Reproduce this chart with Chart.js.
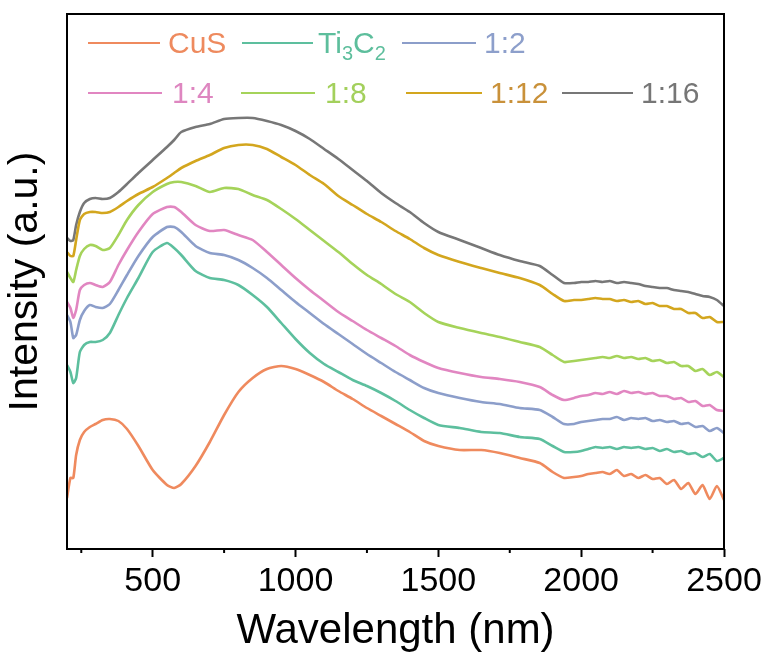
<!DOCTYPE html>
<html>
<head>
<meta charset="utf-8">
<title>Absorption spectra</title>
<script src="https://cdn.jsdelivr.net/npm/chart.js@4.4.1/dist/chart.umd.min.js"></script>
<style>
  html, body { margin: 0; padding: 0; background: #ffffff; }
  canvas { display: block; }
</style>
</head>
<body>
<canvas id="spectra" width="772" height="669"></canvas>
<script>
// Wavelength grid (nm) shared by all spectra
const wavelengths = [
  200, 212, 222, 232, 245, 260, 280, 300, 325, 350,
  380, 410, 450, 500, 550, 575, 600, 650, 700, 750,
  800, 850, 900, 950, 1000, 1050, 1100, 1150, 1200, 1250,
  1300, 1350, 1400, 1450, 1500, 1575, 1650, 1715, 1785, 1855,
  1900, 1940, 1975, 2000, 2025, 2050, 2075, 2100, 2125, 2150,
  2175, 2200, 2225, 2250, 2275, 2300, 2325, 2350, 2375, 2400,
  2425, 2450, 2475, 2500
];

// Intensity (a.u., curves offset for clarity)
const cus = [
  51, 71, 71, 94, 109, 117, 122, 125, 129, 130,
  128, 120, 103, 79, 64, 61, 65, 83, 107, 134,
  157, 171, 180, 183, 180, 174, 167, 158, 150, 141,
  133, 125, 117, 108, 103, 99, 99, 96, 91, 86,
  77, 71, 72, 73, 75, 76, 77, 75, 79, 73,
  75, 71, 74, 70, 71, 65, 69, 60, 66, 55,
  64, 50, 63, 49
];
const ti3c2 = [
  184, 177, 166, 171, 197, 204, 207, 207, 209, 216,
  234, 251, 271, 297, 306, 301, 294, 278, 271, 269,
  264, 254, 242, 226, 210, 196, 185, 177, 169, 163,
  156, 148, 139, 131, 124, 121, 117, 116, 112, 110,
  103, 97, 97, 98, 100, 102, 101, 102, 100, 102,
  101, 102, 100, 101, 98, 100, 97, 98, 95, 96,
  92, 95, 88, 91
];
const ratio1to2 = [
  234, 227, 211, 214, 229, 238, 244, 242, 241, 245,
  259, 274, 293, 312, 322, 322, 317, 303, 296, 294,
  289, 281, 271, 259, 247, 236, 225, 215, 205, 195,
  186, 177, 169, 161, 156, 151, 147, 145, 141, 139,
  132, 125, 125, 127, 128, 129, 130, 130, 132, 129,
  131, 130, 131, 128, 129, 127, 128, 125, 126, 122,
  123, 118, 121, 116
];
const ratio1to4 = [
  247, 241, 231, 239, 259, 264, 266, 264, 262, 267,
  284, 299, 317, 335, 342, 342, 337, 324, 318, 319,
  314, 309, 297, 284, 271, 259, 248, 237, 228, 219,
  211, 203, 194, 187, 181, 176, 172, 170, 167, 162,
  154, 149, 151, 153, 154, 156, 155, 157, 155, 158,
  156, 157, 155, 156, 153, 153, 150, 151, 147, 148,
  143, 144, 139, 138
];
const ratio1to8 = [
  277, 271, 267, 279, 293, 300, 304, 303, 299, 301,
  314, 329, 344, 357, 365, 367, 367, 363, 357, 361,
  360, 354, 349, 340, 330, 319, 308, 297, 285, 274,
  265, 255, 247, 236, 227, 221, 216, 212, 207, 202,
  194, 187, 188, 189, 190, 191, 192, 191, 193, 191,
  192, 190, 191, 188, 189, 186, 187, 183, 183, 178,
  180, 174, 177, 172
];
const ratio1to12 = [
  297, 293, 293, 309, 329, 335, 337, 337, 336, 337,
  342, 348, 355, 362, 371, 376, 381, 388, 394, 401,
  404, 404, 400, 392, 384, 374, 365, 353, 344, 335,
  327, 318, 310, 301, 294, 287, 281, 276, 271, 264,
  255, 248, 249, 249, 250, 251, 250, 250, 248, 249,
  247, 248, 245, 246, 243, 243, 240, 240, 236, 236,
  231, 232, 227, 227
];
const ratio1to16 = [
  311, 308, 309, 324, 337, 346, 350, 351, 350, 351,
  357, 365, 376, 389, 402, 409, 417, 422, 425, 430,
  431, 431, 428, 424, 418, 410, 400, 390, 379, 368,
  356, 346, 337, 326, 317, 309, 301, 294, 288, 283,
  274, 266, 266, 267, 267, 268, 267, 268, 266, 267,
  266, 265, 263, 262, 261, 261, 259, 258, 257, 255,
  253, 252, 249, 243
];

// Series names, colours and axis ticks
const seriesNames = ['CuS', 'Ti3C2', '1:2', '1:4', '1:8', '1:12', '1:16'];
const seriesValues = [cus, ti3c2, ratio1to2, ratio1to4, ratio1to8, ratio1to12, ratio1to16];
const lineColors = ['#EF8A5E', '#5DBF9E', '#8C9ECA', '#E186C1', '#A5D35A', '#D3A61E', '#777777'];
const labelColors = ['#EE8A5E', '#5DBE9C', '#8D9FCB', '#DE86C0', '#A3D05C', '#C9913A', '#767676'];
const xMajorTicks = [500, 1000, 1500, 2000, 2500];
const xMinorTicks = [250, 750, 1250, 1750, 2250];

const FONT = "'Liberation Sans', Arial, Helvetica, sans-serif";

// Boxed frame around the plot area plus short minor ticks on the wavelength axis
const framePlugin = {
  id: 'frame',
  afterDraw(chart) {
    const { ctx, chartArea: a, scales } = chart;
    ctx.save();
    ctx.strokeStyle = '#000';
    ctx.lineWidth = 2;
    ctx.strokeRect(a.left, a.top, a.right - a.left, a.bottom - a.top);
    ctx.beginPath();
    xMinorTicks.forEach(v => {
      const px = scales.x.getPixelForValue(v);
      ctx.moveTo(px, a.bottom);
      ctx.lineTo(px, a.bottom + 4);
    });
    ctx.stroke();
    ctx.restore();
  }
};

// Two-row legend inside the plot, with subscripted formula text
const legendLayout = [
  { line: [88, 160], text: 168, row: 0 },
  { line: [242, 313], text: 318, row: 0 },
  { line: [402, 476], text: 484, row: 0 },
  { line: [88, 162], text: 172, row: 1 },
  { line: [241, 315], text: 325, row: 1 },
  { line: [406, 482], text: 490, row: 1 },
  { line: [562, 633], text: 641, row: 1 }
];
const legendRows = [{ lineY: 43, baseY: 53 }, { lineY: 93, baseY: 103 }];

function drawLabel(ctx, text, x, y) {
  // digits following letters are drawn as subscripts (chemical formula)
  const parts = text.match(/[A-Za-z]+|\d+|[^A-Za-z\d]+/g) || [text];
  const isFormula = /[A-Za-z]/.test(text);
  let cx = x;
  parts.forEach(p => {
    const sub = isFormula && /^\d+$/.test(p);
    ctx.font = (sub ? 20 : 30) + 'px ' + FONT;
    ctx.fillText(p, cx, sub ? y + 7 : y);
    cx += ctx.measureText(p).width;
  });
}

const legendPlugin = {
  id: 'insideLegend',
  afterDraw(chart) {
    const { ctx } = chart;
    ctx.save();
    ctx.textAlign = 'left';
    ctx.textBaseline = 'alphabetic';
    chart.data.datasets.forEach((ds, i) => {
      const L = legendLayout[i];
      const r = legendRows[L.row];
      ctx.strokeStyle = ds.borderColor;
      ctx.lineWidth = 2;
      ctx.beginPath();
      ctx.moveTo(L.line[0], r.lineY);
      ctx.lineTo(L.line[1], r.lineY);
      ctx.stroke();
      ctx.fillStyle = labelColors[i];
      drawLabel(ctx, ds.label, L.text, r.baseY);
    });
    ctx.restore();
  }
};

const datasets = seriesNames.map((name, i) => ({
  label: name,
  data: wavelengths.map((w, k) => ({ x: w, y: seriesValues[i][k] })),
  borderColor: lineColors[i],
  backgroundColor: lineColors[i],
  borderWidth: 2.6,
  pointRadius: 0,
  tension: 0.2,
  fill: false
}));

new Chart(document.getElementById('spectra'), {
  type: 'line',
  data: { datasets },
  options: {
    responsive: false,
    animation: false,
    devicePixelRatio: 1,
    layout: { padding: { left: 0, right: 48, top: 14, bottom: 0 } },
    plugins: { legend: { display: false }, tooltip: { enabled: false } },
    scales: {
      x: {
        type: 'linear',
        min: 200,
        max: 2500,
        afterBuildTicks: s => { s.ticks = xMajorTicks.map(v => ({ value: v })); },
        afterFit: s => { s.height = 120; },
        grid: { drawOnChartArea: false, drawTicks: true, tickLength: 8, tickWidth: 2, tickColor: '#000' },
        border: { display: false },
        ticks: {
          font: { family: FONT, size: 34 },
          color: '#000',
          padding: 4,
          maxRotation: 0,
          autoSkip: false,
          callback: v => String(v)
        },
        title: {
          display: true,
          text: 'Wavelength (nm)',
          color: '#000',
          font: { family: FONT, size: 42 },
          padding: { top: 0, bottom: 12 }
        }
      },
      y: {
        type: 'linear',
        min: 0,
        max: 535,
        afterFit: s => { s.width = 67; },
        ticks: { display: false },
        grid: { display: false },
        border: { display: false },
        title: {
          display: true,
          text: 'Intensity (a.u.)',
          color: '#000',
          font: { family: FONT, size: 41 },
          padding: { top: 1, bottom: 0 }
        }
      }
    }
  },
  plugins: [framePlugin, legendPlugin]
});
</script>
</body>
</html>
